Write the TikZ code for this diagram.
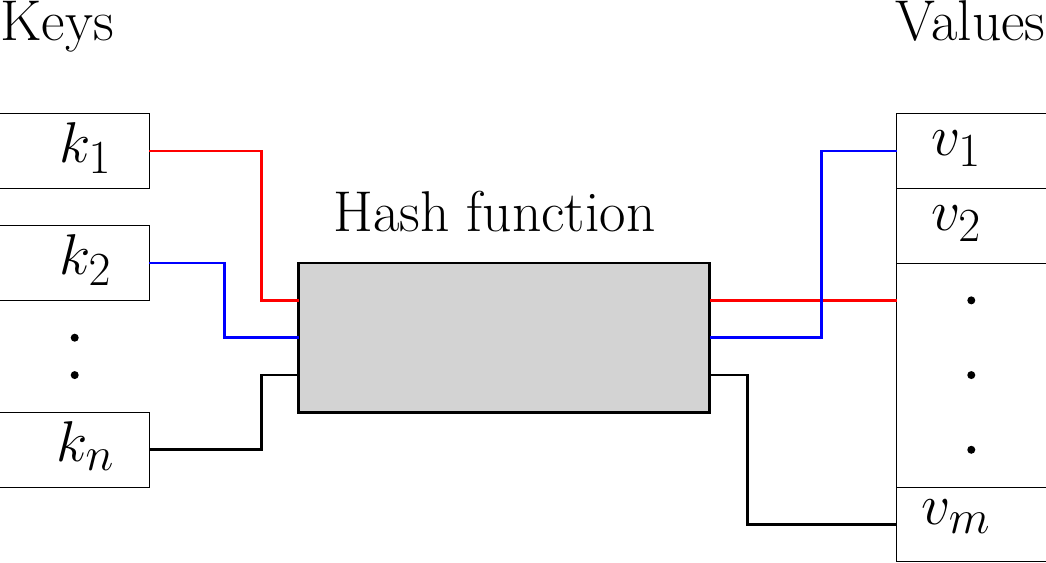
\RequirePackage{fix-cm}
\documentclass[tikz,border=0pt]{standalone}
\usetikzlibrary{positioning}
\DeclareMathSizes{23}{23}{19}{15}

\definecolor{hashgray}{RGB}{211,211,211}
\tikzset{
  keybox/.style={draw, minimum width=2.1cm, minimum height=1.05cm, inner sep=0pt, outer sep=0pt,
    text height=0.95em, text depth=0pt, execute at begin node=\hspace{0.3cm}},
  valbox/.style={draw, minimum width=2.1cm, minimum height=1.05cm, inner sep=0pt, outer sep=0pt,
    text height=0.4em, text depth=0pt, execute at end node=\hspace{0.42cm}},
  link/.style={line width=1.1pt},
}

\begin{document}
\begin{tikzpicture}[x=0.525cm,y=0.525cm,font=\fontsize{23}{28}\selectfont]
\useasboundingbox (0,0.04) rectangle (28,-15.03);

\node[anchor=base west, inner sep=0pt] (keys) at (0,-1.04) {Keys};
\node[anchor=base east, inner sep=0pt] (values) at (28,-1.04) {Values};

% keys
\node[keybox] (k1) at (2,-4) {$k_1$};
\node[keybox] (k2) at (2,-7) {$k_2$};
\node[keybox] (kn) at (2,-12) {$k_n$};
\foreach \y in {-9,-10}
  \fill (2,\y) circle (1.6pt);

% hash box
\node[draw, fill=hashgray, line width=1.1pt, minimum width=5.775cm, minimum height=2.1cm,
  inner sep=0pt, outer sep=0pt] (hash) at (13.5,-9) {};
\node[inner sep=0pt, above=0.43cm of hash, xshift=-0.14cm] (title) {Hash function};
\coordinate (in1) at (8,-8);
\coordinate (in2) at (8,-9);
\coordinate (in3) at (8,-10);
\coordinate (out1) at (19,-8);
\coordinate (out2) at (19,-9);
\coordinate (out3) at (19,-10);

% values
\node[valbox] (v1) at (26,-4) {$v_1$};
\node[valbox] (v2) at (26,-6) {$v_2$};
\node[valbox, minimum height=3.15cm] (vdots) at (26,-10) {};
\node[valbox, text depth=0.4em] (vm) at (26,-14) {$v_m$};
\foreach \y in {-8,-10,-12}
  \fill (26,\y) circle (1.6pt);

\draw[link, red] (k1.east) -- ++(3,0) |- (in1);
\draw[link, red] (out1) -- (vdots.west |- out1);
\draw[link, blue] (k2.east) -- ++(2,0) |- (in2);
\draw[link, blue] (out2) -- ++(3,0) |- (v1.west);
\draw[link] (kn.east) -- ++(3,0) |- (in3);
\draw[link] (out3) -- ++(1,0) |- (vm.west);
\end{tikzpicture}
\end{document}
